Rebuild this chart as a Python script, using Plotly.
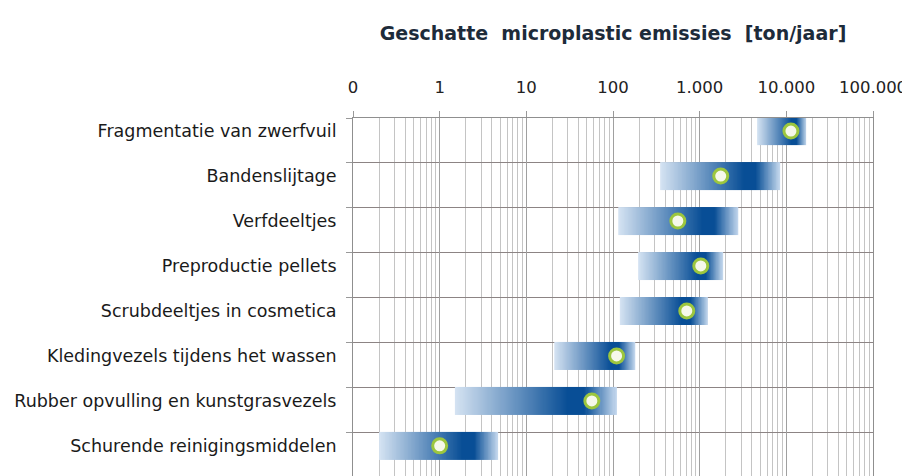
import plotly.graph_objects as go

categories = [
    "Fragmentatie van zwerfvuil",
    "Bandenslijtage",
    "Verfdeeltjes",
    "Preproductie pellets",
    "Scrubdeeltjes in cosmetica",
    "Kledingvezels tijdens het wassen",
    "Rubber opvulling en kunstgrasvezels",
    "Schurende reinigingsmiddelen",
]
low_values = [4600, 350, 115, 195, 120, 21, 1.5, 0.2]
high_values = [17000, 8400, 2800, 1850, 1250, 180, 110, 4.7]
mid_values = [11300, 1750, 560, 1030, 710, 110, 57, 1.0]

tick_values = [0.1, 1, 10, 100, 1000, 10000, 100000]
tick_labels = ["0", "1", "10", "100", "1.000", "10.000", "100.000"]

title_text = "Geschatte\u00a0 microplastic emissies\u00a0 [ton/jaar]"

# gradient fill along each bar (fraction -> colour)
gradient = [
    [0.0, "rgb(214,228,243)"],
    [0.70, "rgb(8,78,150)"],
    [0.80, "rgb(8,78,150)"],
    [1.0, "rgb(198,217,238)"],
]

N = 150
BAR_HALF = 0.31
ROW_OFFSET = 0.29  # boundary lines sit above the row centres
row_pos = list(range(len(categories)))

fig = go.Figure()
for i, (lo, hi) in enumerate(zip(low_values, high_values)):
    ratio = hi / lo
    edges = [lo * ratio ** (k / N) for k in range(N + 1)]
    frac = [(k + 0.5) / N for k in range(N)]
    fig.add_trace(go.Heatmap(
        x=edges,
        y=[i - BAR_HALF, i + BAR_HALF],
        z=[frac],
        zmin=0, zmax=1,
        colorscale=gradient,
        showscale=False,
        hoverinfo="skip",
        zsmooth=False,
    ))

fig.add_trace(go.Scatter(
    x=mid_values,
    y=row_pos,
    mode="markers",
    marker=dict(size=14, color="#f6f8ea", line=dict(color="#9cc63e", width=3)),
    showlegend=False,
    hovertext=categories,
))

fig.update_layout(
    width=902,
    height=468,
    margin=dict(l=345, r=37, t=110, b=0, autoexpand=False),
    paper_bgcolor="white",
    plot_bgcolor="white",
    font=dict(family="DejaVu Sans", color="#222222"),
    title=dict(
        text=title_text,
        font=dict(family="DejaVu Sans", size=19, color="#1d2b3a", weight="bold"),
        x=0.5, xanchor="center", xref="paper",
        y=1 - 25 / 468, yanchor="middle", yref="container",
    ),
    xaxis=dict(
        type="log",
        side="top",
        range=[-1, 5],
        tickvals=tick_values,
        ticktext=tick_labels,
        tickfont=dict(family="DejaVu Sans", size=16.5, color="#222222"),
        ticks="outside",
        ticklen=6,
        tickcolor="#999999",
        ticklabelstandoff=11,
        ticklabeloverflow="allow",
        showgrid=True,
        gridcolor="#a0a0a0",
        gridwidth=1,
        minor=dict(showgrid=True, dtick="D1", gridcolor="#c4c4c4", gridwidth=1, ticks=""),
        showline=True,
        linecolor="#8f8f8f",
        mirror=True,
        zeroline=False,
    ),
    yaxis=dict(
        range=[7.67, -ROW_OFFSET],
        tickvals=row_pos,
        ticktext=categories,
        tickfont=dict(family="DejaVu Sans", size=17.5, color="#1a1a1a"),
        ticks="",
        showgrid=False,
        minor=dict(
            tickvals=[p - ROW_OFFSET for p in row_pos],
            showgrid=True,
            gridcolor="#8c8484",
            gridwidth=1,
            ticks="outside",
            ticklen=6,
            tickcolor="#999999",
        ),
        ticklabelstandoff=12,
        showline=True,
        linecolor="#8f8f8f",
        mirror=True,
        zeroline=False,
    ),
)

fig.write_html("out.html")
